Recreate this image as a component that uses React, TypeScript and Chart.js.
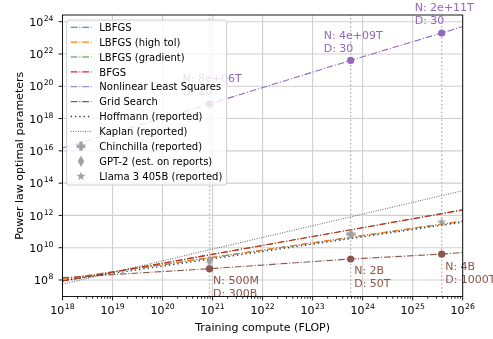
import { useEffect, useRef } from "react";
import { Chart, registerables } from "chart.js";

Chart.register(...registerables);

const FONT = "'DejaVu Sans', 'Liberation Sans', sans-serif";

// ---- data ----
const xMin = 1e18;
const xMax = 1e26;
const yMin = 9.5e6;
const yMax = 2.6e24;

const lineEndsC = [1e18, 1e26];
const lbfgsN = [1.12e8, 4.4e11];
const lbfgsHighTolN = [1.15e8, 4.5e11];
const lbfgsGradN = [8.7e7, 2.2e12];
const bfgsN = [8.7e7, 2.2e12];
const hoffmannN = [9.0e7, 3.8e11];
const kaplanN = [5.5e7, 3.4e13];

// compute of reference models: GPT-2, Chinchilla, Llama 3 405B
const markC = [8.7e20, 5.76e23, 3.8e25];

const nlsN = [8e18, 4e21, 2e23];
const nlsEndsN = [1.5e16, 5e23];
const nlsLabels = [
  ["N: 8e+06T", "D: 20"],
  ["N: 4e+09T", "D: 30"],
  ["N: 2e+11T", "D: 30"],
];

const gridN = [5e8, 2e9, 4e9];
const gridEndsN = [1.4e8, 5e9];
const gridLabels = [
  ["N: 500M", "D: 300B"],
  ["N: 2B", "D: 50T"],
  ["N: 4B", "D: 1000T"],
];

const gpt2N = [1.5e9];
const chinchillaN = [7e10];
const llamaN = [4.05e11];

const xTickExps = [18, 19, 20, 21, 22, 23, 24, 25, 26];
const yTickExps = [8, 10, 12, 14, 16, 18, 20, 22, 24];

const legendLabels = [
  "LBFGS",
  "LBFGS (high tol)",
  "LBFGS (gradient)",
  "BFGS",
  "Nonlinear Least Squares",
  "Grid Search",
  "Hoffmann (reported)",
  "Kaplan (reported)",
  "Chinchilla (reported)",
  "GPT-2 (est. on reports)",
  "Llama 3 405B (reported)",
];

// ---- styles ----
const C_BLUE = "#1f77b4";
const C_ORANGE = "#ff7f0e";
const C_GREEN = "#2ca02c";
const C_RED = "#d62728";
const C_PURPLE = "#9467bd";
const C_BROWN = "#8c564b";
const C_MARK = "#a0a0a0";
const DASHDOT = [6.8, 1.8, 1.1, 1.8];
const HOFF_DASH = [1.3, 3.0];
const KAP_DASH = [0.9, 1.5];

function makePlus(color: string) {
  const c = document.createElement("canvas");
  c.width = 10;
  c.height = 10;
  const g = c.getContext("2d")!;
  g.fillStyle = color;
  g.fillRect(3.3, 0.5, 3.4, 9);
  g.fillRect(0.5, 3.3, 9, 3.4);
  return c;
}
function makeThinDiamond(color: string) {
  const c = document.createElement("canvas");
  c.width = 8;
  c.height = 13;
  const g = c.getContext("2d")!;
  g.fillStyle = color;
  g.beginPath();
  g.moveTo(4, 0.8);
  g.lineTo(7.2, 6.5);
  g.lineTo(4, 12.2);
  g.lineTo(0.8, 6.5);
  g.closePath();
  g.fill();
  return c;
}
function makeStar(color: string) {
  const c = document.createElement("canvas");
  c.width = 10;
  c.height = 10;
  const g = c.getContext("2d")!;
  g.fillStyle = color;
  g.beginPath();
  const R = 4.8, r = 1.9, cx = 5, cy = 5.3;
  for (let i = 0; i < 10; i++) {
    const ang = -Math.PI / 2 + (i * Math.PI) / 5;
    const rr = i % 2 === 0 ? R : r;
    const px = cx + rr * Math.cos(ang);
    const py = cy + rr * Math.sin(ang);
    if (i === 0) g.moveTo(px, py);
    else g.lineTo(px, py);
  }
  g.closePath();
  g.fill();
  return c;
}

function pow10Label(ctx: CanvasRenderingContext2D, exp: number, x: number, yBase: number, align: "center" | "right") {
  const base = "10";
  const sup = String(exp);
  ctx.font = `11px ${FONT}`;
  const w1 = ctx.measureText(base).width;
  ctx.font = `7.7px ${FONT}`;
  const w2 = ctx.measureText(sup).width;
  const total = w1 + w2 + 0.5;
  const x0 = align === "center" ? x - total / 2 : x - total;
  ctx.textAlign = "left";
  ctx.textBaseline = "alphabetic";
  ctx.fillStyle = "#000";
  ctx.font = `11px ${FONT}`;
  ctx.fillText(base, x0, yBase);
  ctx.font = `7.7px ${FONT}`;
  ctx.fillText(sup, x0 + w1 + 0.5, yBase - 5);
}

export default function App() {
  const ref = useRef<HTMLCanvasElement | null>(null);

  useEffect(() => {
    const canvas = ref.current;
    if (!canvas) return;

    const plusImg = makePlus(C_MARK);
    const diamondImg = makeThinDiamond(C_MARK);
    const starImg = makeStar(C_MARK);

    const pts = (cs: number[], ns: number[]) => cs.map((c, i) => ({ x: c, y: ns[i] }));

    const lineDs = (label: string, data: any[], color: string, dash: number[], width: number, order: number, extra: any = {}) => ({
      type: "line",
      label,
      data,
      borderColor: color,
      backgroundColor: color,
      borderWidth: width,
      borderDash: dash,
      pointRadius: 0,
      fill: false,
      tension: 0,
      order,
      ...extra,
    });

    const nlsData = [{ x: lineEndsC[0], y: nlsEndsN[0] }, ...pts(markC, nlsN), { x: lineEndsC[1], y: nlsEndsN[1] }];
    const gridData = [{ x: lineEndsC[0], y: gridEndsN[0] }, ...pts(markC, gridN), { x: lineEndsC[1], y: gridEndsN[1] }];
    const markerRadii = [0, 3.6, 3.6, 3.6, 0];

    const vlines = markC.map((c, i) =>
      lineDs("v" + i, [{ x: c, y: yMin }, { x: c, y: yMax }], "rgba(170,170,170,0.85)", [1.5, 2.4], 1.4, 200)
    );

    const datasets: any[] = [
      ...vlines,
      lineDs(legendLabels[0], pts(lineEndsC, lbfgsN), C_BLUE, DASHDOT, 1.1, 100),
      lineDs(legendLabels[1], pts(lineEndsC, lbfgsHighTolN), C_ORANGE, DASHDOT, 1.1, 99),
      lineDs(legendLabels[2], pts(lineEndsC, lbfgsGradN), C_GREEN, DASHDOT, 1.1, 98),
      lineDs(legendLabels[3], pts(lineEndsC, bfgsN), C_RED, DASHDOT, 1.1, 97),
      lineDs(legendLabels[4], nlsData, C_PURPLE, DASHDOT, 1.1, 96, {
        pointRadius: markerRadii,
        pointBackgroundColor: C_PURPLE,
        pointBorderWidth: 0,
      }),
      lineDs(legendLabels[5], gridData, C_BROWN, DASHDOT, 1.1, 95, {
        pointRadius: markerRadii,
        pointBackgroundColor: C_BROWN,
        pointBorderWidth: 0,
      }),
      lineDs(legendLabels[6], pts(lineEndsC, hoffmannN), "#333333", HOFF_DASH, 1.3, 94),
      lineDs(legendLabels[7], pts(lineEndsC, kaplanN), "#555555", KAP_DASH, 1.0, 93),
      {
        type: "line",
        label: legendLabels[8],
        data: [{ x: markC[1], y: chinchillaN[0] }],
        showLine: false,
        pointStyle: plusImg,
        pointRadius: 5,
        order: 10,
      },
      {
        type: "line",
        label: legendLabels[9],
        data: [{ x: markC[0], y: gpt2N[0] }],
        showLine: false,
        pointStyle: diamondImg,
        pointRadius: 5,
        order: 9,
      },
      {
        type: "line",
        label: legendLabels[10],
        data: [{ x: markC[2], y: llamaN[0] }],
        showLine: false,
        pointStyle: starImg,
        pointRadius: 5,
        order: 8,
      },
    ];

    const legendHandles: any[] = [
      { kind: "line", color: C_BLUE, dash: DASHDOT, w: 1.1 },
      { kind: "line", color: C_ORANGE, dash: DASHDOT, w: 1.1 },
      { kind: "line", color: C_GREEN, dash: DASHDOT, w: 1.1 },
      { kind: "line", color: C_RED, dash: DASHDOT, w: 1.1 },
      { kind: "line", color: C_PURPLE, dash: DASHDOT, w: 1.1 },
      { kind: "line", color: C_BROWN, dash: DASHDOT, w: 1.1 },
      { kind: "line", color: "#333333", dash: HOFF_DASH, w: 1.3 },
      { kind: "line", color: "#555555", dash: KAP_DASH, w: 1.0 },
      { kind: "img", img: plusImg },
      { kind: "img", img: diamondImg },
      { kind: "img", img: starImg },
    ];

    const deco = {
      id: "deco",
      beforeDatasetsDraw(chart: any) {
        const { ctx, chartArea: a, scales } = chart;
        const x = scales.x, y = scales.y;
        ctx.save();
        ctx.strokeStyle = "#cfcfcf";
        ctx.lineWidth = 1.1;
        for (const e of xTickExps) {
          const px = x.getPixelForValue(Math.pow(10, e));
          ctx.beginPath();
          ctx.moveTo(px, a.top);
          ctx.lineTo(px, a.bottom);
          ctx.stroke();
        }
        for (const e of yTickExps) {
          const py = y.getPixelForValue(Math.pow(10, e));
          ctx.beginPath();
          ctx.moveTo(a.left, py);
          ctx.lineTo(a.right, py);
          ctx.stroke();
        }
        ctx.restore();
      },
      afterDatasetsDraw(chart: any) {
        const { ctx, chartArea: a, scales } = chart;
        const x = scales.x, y = scales.y;
        ctx.save();

        // annotations
        ctx.font = `11px ${FONT}`;
        ctx.textAlign = "left";
        ctx.textBaseline = "alphabetic";
        markC.forEach((c, i) => {
          const px = x.getPixelForValue(c);
          const py = y.getPixelForValue(nlsN[i]);
          ctx.fillStyle = C_PURPLE;
          ctx.fillText(nlsLabels[i][0], px - 27, py - 21.5);
          ctx.fillText(nlsLabels[i][1], px - 27, py - 8.5);
          const gy = y.getPixelForValue(gridN[i]);
          ctx.fillStyle = C_BROWN;
          ctx.fillText(gridLabels[i][0], px + 3.5, gy + 15.5);
          ctx.fillText(gridLabels[i][1], px + 3.5, gy + 28.5);
        });

        // legend
        const lx = 66.7, ly = 20, lw = 160, lh = 165, r = 2.5;
        ctx.beginPath();
        ctx.moveTo(lx + r, ly);
        ctx.lineTo(lx + lw - r, ly);
        ctx.arcTo(lx + lw, ly, lx + lw, ly + r, r);
        ctx.lineTo(lx + lw, ly + lh - r);
        ctx.arcTo(lx + lw, ly + lh, lx + lw - r, ly + lh, r);
        ctx.lineTo(lx + r, ly + lh);
        ctx.arcTo(lx, ly + lh, lx, ly + lh - r, r);
        ctx.lineTo(lx, ly + r);
        ctx.arcTo(lx, ly, lx + r, ly, r);
        ctx.closePath();
        ctx.fillStyle = "rgba(255,255,255,0.8)";
        ctx.fill();
        ctx.strokeStyle = "#cccccc";
        ctx.lineWidth = 1;
        ctx.stroke();
        legendLabels.forEach((lab, i) => {
          const cy = 27.3 + i * 14.87;
          const h = legendHandles[i];
          if (h.kind === "line") {
            ctx.save();
            ctx.strokeStyle = h.color;
            ctx.lineWidth = h.w;
            ctx.setLineDash(h.dash);
            ctx.beginPath();
            ctx.moveTo(70.7, cy);
            ctx.lineTo(91.5, cy);
            ctx.stroke();
            ctx.restore();
          } else {
            ctx.drawImage(h.img, 81 - h.img.width / 2, cy - h.img.height / 2);
          }
          ctx.fillStyle = "#000";
          ctx.font = `10px ${FONT}`;
          ctx.fillText(lab, 99.3, cy + 3.6);
        });

        // spines
        ctx.strokeStyle = "#000";
        ctx.lineWidth = 0.9;
        ctx.setLineDash([]);
        ctx.strokeRect(a.left, a.top, a.right - a.left, a.bottom - a.top);

        // x ticks
        ctx.lineWidth = 0.9;
        for (let e = 18; e < 26; e++) {
          for (let m = 2; m <= 9; m++) {
            const px = x.getPixelForValue(m * Math.pow(10, e));
            ctx.beginPath();
            ctx.moveTo(px, a.bottom);
            ctx.lineTo(px, a.bottom + 2.2);
            ctx.stroke();
          }
        }
        for (const e of xTickExps) {
          const px = x.getPixelForValue(Math.pow(10, e));
          ctx.beginPath();
          ctx.moveTo(px, a.bottom);
          ctx.lineTo(px, a.bottom + 3.9);
          ctx.stroke();
          pow10Label(ctx, e, px, 314, "center");
        }
        for (const e of yTickExps) {
          const py = y.getPixelForValue(Math.pow(10, e));
          ctx.beginPath();
          ctx.moveTo(a.left, py);
          ctx.lineTo(a.left - 3.9, py);
          ctx.stroke();
          pow10Label(ctx, e, 53.5, py + 4.2, "right");
        }

        // axis titles
        ctx.fillStyle = "#000";
        ctx.font = `11px ${FONT}`;
        ctx.textAlign = "center";
        ctx.textBaseline = "alphabetic";
        ctx.fillText("Training compute (FLOP)", (a.left + a.right) / 2, 330.5);
        ctx.save();
        ctx.translate(22.5, (a.top + a.bottom) / 2);
        ctx.rotate(-Math.PI / 2);
        ctx.fillText("Power law optimal parameters", 0, 0);
        ctx.restore();

        ctx.restore();
      },
    };

    const chart = new Chart(canvas, {
      type: "line",
      data: { datasets },
      options: {
        animation: false,
        responsive: false,
        events: [],
        layout: { padding: { top: 15, right: 30.3, left: 0, bottom: 0 } },
        plugins: { legend: { display: false }, tooltip: { enabled: false } },
        scales: {
          x: {
            type: "logarithmic",
            min: xMin,
            max: xMax,
            bounds: "data",
            grid: { display: false },
            border: { display: false },
            ticks: { display: false },
            afterFit: (s: any) => {
              s.height = 42.5;
            },
          },
          y: {
            type: "logarithmic",
            min: yMin,
            max: yMax,
            bounds: "data",
            grid: { display: false },
            border: { display: false },
            ticks: { display: false },
            afterFit: (s: any) => {
              s.width = 62.5;
            },
          },
        },
      } as any,
      plugins: [deco],
    });

    return () => chart.destroy();
  }, []);

  return (
    <div style={{ position: "fixed", left: 0, top: 0, width: 493, height: 339, background: "#fff" }}>
      <canvas ref={ref} width={493} height={339} style={{ display: "block" }} />
    </div>
  );
}
